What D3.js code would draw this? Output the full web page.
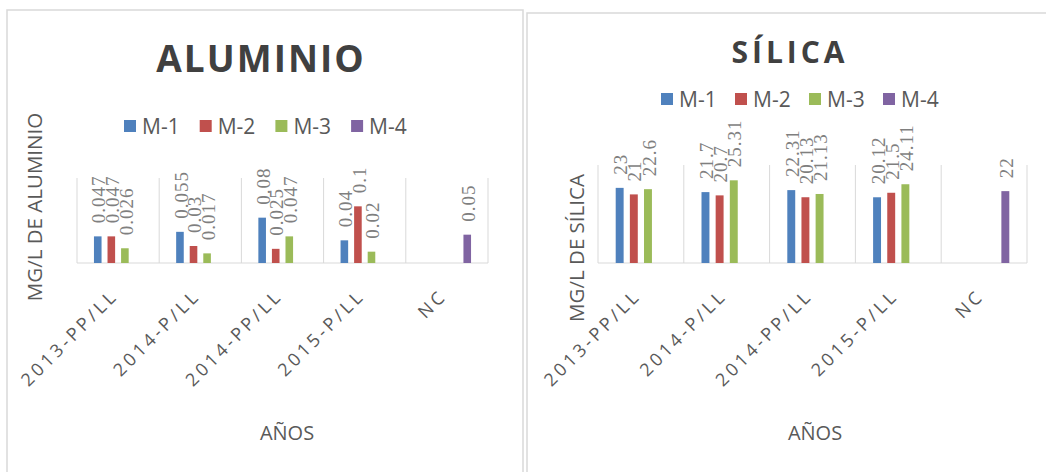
<!DOCTYPE html>
<html lang="es">
    <head>
        <meta charset="utf-8">
        <title>Aluminio y Sílica</title>
        <script src="https://d3js.org/d3.v7.min.js"></script>
        <style type="text/css">
          body{
            margin: 0;
            background: #fff;
          }
          svg{
            display: block;
            font-family: "Open Sans", sans-serif;
          }
          .lbl{
            font-family: "Liberation Serif", serif;
            fill: #7f7f7f;
          }
        </style>
    </head>
    <body>
        <script type="text/javascript">

        const w = 1046;
        const h = 472;

        // categories and series
        const categories = ["2013-PP/LL", "2014-P/LL", "2014-PP/LL", "2015-P/LL", "NC"];
        const series = ["M-1", "M-2", "M-3", "M-4"];
        const colors = ["#4f81bd", "#c0504d", "#9bbb59", "#8064a2"];

        // aluminio values (mg/L), null = no bar
        const aluM1 = [0.047, 0.055, 0.08, 0.04, null];
        const aluM2 = [0.047, 0.03, 0.025, 0.1, null];
        const aluM3 = [0.026, 0.017, 0.047, 0.02, null];
        const aluM4 = [null, null, null, null, 0.05];

        // silica values (mg/L)
        const silM1 = [23, 21.7, 22.31, 20.12, null];
        const silM2 = [21, 20.7, 20.13, 21.5, null];
        const silM3 = [22.6, 25.31, 21.13, 24.11, null];
        const silM4 = [null, null, null, null, 22];

        const charts = [
          {title: "ALUMINIO", titleX: 261, titleY: 72, titleSize: 37, titleSpacing: 2,
           yTitle: "MG/L DE ALUMINIO", yTitleX: 42, yTitleY: 207,
           xTitleX: 287, legendX: 124, legendY: 126, legendStep: 75.7,
           x0: 77, x1: 488, top: 178, base: 263, ymax: 0.15,
           values: [aluM1, aluM2, aluM3, aluM4],
           panel: [7, 10, 516, 480]},
          {title: "SÍLICA", titleX: 790, titleY: 63, titleSize: 30, titleSpacing: 4,
           yTitle: "MG/L DE SÍLICA", yTitleX: 584, yTitleY: 248,
           xTitleX: 815, legendX: 661, legendY: 99, legendStep: 74,
           x0: 598, x1: 1027, top: 165, base: 263, ymax: 30,
           values: [silM1, silM2, silM3, silM4],
           panel: [527, 13, 540, 480]}
        ];

        const svg = d3.select("body").append("svg")
                      .attr("width", w)
                      .attr("height", h);

        charts.forEach(c => {
          const g = svg.append("g");

          //panel frame
          g.append("rect")
           .attr("x", c.panel[0]).attr("y", c.panel[1])
           .attr("width", c.panel[2]).attr("height", c.panel[3])
           .attr("fill", "#fff")
           .attr("stroke", "#d9d9d9")
           .attr("stroke-width", 1.5);

          //scales
          const x = d3.scaleBand()
                      .domain(categories)
                      .range([c.x0, c.x1]);
          const bw = x.bandwidth();
          const xs = d3.scaleBand()
                       .domain(series)
                       .range([bw * 0.17, bw * 0.83])
                       .paddingInner(0.44)
                       .paddingOuter(0.22);
          const y = d3.scaleLinear()
                      .domain([0, c.ymax])
                      .range([c.base, c.top]);

          //vertical gridlines at category edges
          const edges = categories.map(d => x(d)).concat([c.x1]);
          g.selectAll(".grid")
           .data(edges)
           .enter()
           .append("line")
           .attr("x1", d => d).attr("x2", d => d)
           .attr("y1", c.top).attr("y2", c.base)
           .attr("stroke", "#d9d9d9");

          g.append("line")
           .attr("x1", c.x0).attr("x2", c.x1)
           .attr("y1", c.base).attr("y2", c.base)
           .attr("stroke", "#d9d9d9");

          //bars
          const pts = [];
          c.values.forEach((vals, si) => {
            vals.forEach((v, ci) => {
              if (v !== null) pts.push({s: series[si], si: si, cat: categories[ci], v: v});
            });
          });

          g.selectAll(".bar")
           .data(pts)
           .enter()
           .append("rect")
           .attr("x", d => x(d.cat) + xs(d.s))
           .attr("y", d => y(d.v))
           .attr("width", xs.bandwidth())
           .attr("height", d => c.base - y(d.v))
           .attr("fill", d => colors[d.si]);

          //rotated value labels
          g.selectAll(".lbl")
           .data(pts)
           .enter()
           .append("text")
           .attr("class", "lbl")
           .attr("transform", d => `translate(${x(d.cat) + xs(d.s) + xs.bandwidth() / 2 + 1},${y(d.v) - 13}) rotate(-90)`)
           .attr("dy", "0.35em")
           .attr("font-size", 19)
           .attr("letter-spacing", 1)
           .text(d => d.v);

          //category labels
          g.selectAll(".tick")
           .data(categories)
           .enter()
           .append("text")
           .attr("transform", d => `translate(${x(d) + bw / 2 + 1},${c.base + 34}) rotate(-45)`)
           .attr("text-anchor", "end")
           .attr("font-size", 18)
           .attr("letter-spacing", 3.4)
           .attr("fill", "#595959")
           .text(d => d);

          //title
          g.append("text")
           .attr("x", c.titleX).attr("y", c.titleY)
           .attr("text-anchor", "middle")
           .attr("font-size", c.titleSize)
           .attr("font-weight", "bold")
           .attr("letter-spacing", c.titleSpacing)
           .attr("fill", "#404040")
           .text(c.title);

          //axis titles
          g.append("text")
           .attr("transform", `translate(${c.yTitleX},${c.yTitleY}) rotate(-90)`)
           .attr("text-anchor", "middle")
           .attr("font-size", 20.5)
           .attr("fill", "#595959")
           .text(c.yTitle);

          g.append("text")
           .attr("x", c.xTitleX).attr("y", 440)
           .attr("text-anchor", "middle")
           .attr("font-size", 20)
           .attr("fill", "#595959")
           .text("AÑOS");

          //legend
          const leg = g.selectAll(".leg")
                       .data(series)
                       .enter()
                       .append("g")
                       .attr("transform", (d, i) => `translate(${c.legendX + i * c.legendStep},${c.legendY})`);
          leg.append("rect")
             .attr("x", 0).attr("y", -6)
             .attr("width", 12).attr("height", 12)
             .attr("fill", (d, i) => colors[i]);
          leg.append("text")
             .attr("x", 18).attr("y", 7.5)
             .attr("font-size", 21)
             .attr("fill", "#595959")
             .text(d => d);
        });

        </script>
    </body>
</html>
